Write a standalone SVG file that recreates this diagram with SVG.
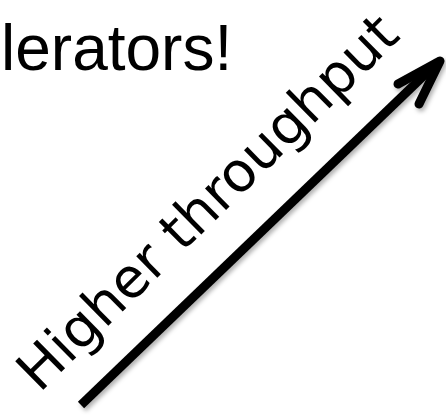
<svg xmlns="http://www.w3.org/2000/svg" width="446" height="415" viewBox="0 0 446 415">
<style>
.title{font-family:"Liberation Sans",Arial,sans-serif;font-size:64px;fill:#000}
.lbl{font-family:"DejaVu Sans",sans-serif;font-size:55px;fill:#000}
.arr{fill:none;stroke:#000;stroke-width:9}
</style>
<defs>
<filter id="sh" x="-20%" y="-20%" width="140%" height="140%">
<feDropShadow dx="2" dy="3" stdDeviation="2" flood-color="#000" flood-opacity="0.3"/>
</filter>
</defs>
<rect width="446" height="415" fill="#fff"/>
<g id="title"><text class="title" x="1" y="70">lerators!</text></g>
<g id="connectors" filter="url(#sh)">
<line class="arr" x1="81" y1="405" x2="438" y2="62"/>
<polyline class="arr" points="398,84 440,61 419,104" stroke-linecap="round" stroke-linejoin="round"/>
</g>
<g id="label"><text class="lbl" transform="translate(43,390) rotate(-44.5)" x="-5" y="0">Higher throughput</text></g>
</svg>
